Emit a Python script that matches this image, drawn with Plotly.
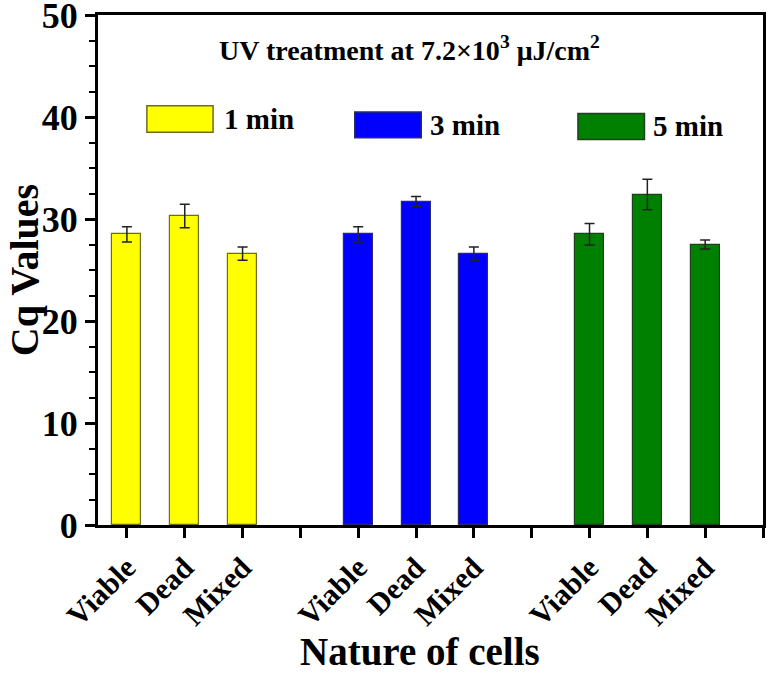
import plotly.graph_objects as go

# ---- data ----
cell_types = ["Viable", "Dead", "Mixed"]
groups = ["1 min", "3 min", "5 min"]
values_1min = [28.5, 30.3, 26.6]
errors_1min = [0.75, 1.15, 0.65]
values_3min = [28.5, 31.7, 26.6]
errors_3min = [0.75, 0.5, 0.65]
values_5min = [28.5, 32.4, 27.5]
errors_5min = [1.05, 1.5, 0.45]
group_positions = [[0, 1, 2], [4, 5, 6], [8, 9, 10]]
tick_positions = [0, 1, 2, 4, 5, 6, 8, 9, 10]
tick_labels = cell_types * 3
gap_tick_positions = [3, 7, 11]
colors = ["#FFFF00", "#0000FF", "#008000"]
outline_colors = ["#6b6b2a", "#2a2a6b", "#1f3f1f"]

FONT = "Liberation Serif"

fig = go.Figure()
all_vals = [values_1min, values_3min, values_5min]
all_errs = [errors_1min, errors_3min, errors_5min]
for g, name in enumerate(groups):
    fig.add_trace(go.Bar(
        x=group_positions[g], y=all_vals[g], name=name,
        width=0.5,
        marker=dict(color=colors[g], line=dict(color=outline_colors[g], width=1.2)),
        error_y=dict(type="data", array=all_errs[g], visible=True,
                     color="#222222", thickness=1.5, width=5),
        showlegend=False,
    ))

# legend swatches (staggered, as in the reference)
legend_boxes = [
    dict(x0=0.345, x1=1.49, y0=38.5, y1=41.1, tx=1.64, ty=39.8),
    dict(x0=3.94, x1=5.09, y0=37.97, y1=40.5, tx=5.21, ty=39.2),
    dict(x0=7.80, x1=8.95, y0=37.8, y1=40.35, tx=9.07, ty=39.07),
]
for g, b in enumerate(legend_boxes):
    fig.add_shape(type="rect", xref="x", yref="y",
                  x0=b["x0"], x1=b["x1"], y0=b["y0"], y1=b["y1"],
                  fillcolor=colors[g], line=dict(color=outline_colors[g], width=1.5))
    fig.add_annotation(x=b["tx"], y=b["ty"], xref="x", yref="y",
                       text=groups[g], showarrow=False, xanchor="left", yanchor="middle",
                       font=dict(family=FONT, size=29, color="black", weight="bold"))

fig.add_annotation(x=0.468, y=0.935, xref="paper", yref="paper",
                   text="UV treatment at 7.2×10<sup>3</sup> μJ/cm<sup>2</sup>",
                   showarrow=False, xanchor="center", yanchor="middle",
                   font=dict(family=FONT, size=28, color="black", weight="bold"))

# axis titles
fig.add_annotation(x=-0.111, y=0.5, xref="paper", yref="paper", text="Cq Values",
                   showarrow=False, textangle=-90, xanchor="center", yanchor="middle",
                   font=dict(family=FONT, size=40, color="black", weight="bold"))
fig.add_annotation(x=0.484, y=-0.249, xref="paper", yref="paper", text="Nature of cells",
                   showarrow=False, xanchor="center", yanchor="middle",
                   font=dict(family=FONT, size=39, color="black", weight="bold"))

fig.update_layout(
    width=768, height=681,
    margin=dict(l=98, r=5, t=15, b=156),
    paper_bgcolor="white", plot_bgcolor="white",
    bargap=0,
)
fig.update_xaxes(
    range=[-0.5, 11], tickmode="array", tickvals=tick_positions, ticktext=tick_labels,
    tickangle=-45, ticks="outside", ticklen=10, tickwidth=3, tickcolor="black",
    minor=dict(tickmode="array", tickvals=gap_tick_positions, ticks="outside",
               ticklen=10, tickwidth=3, tickcolor="black", showgrid=False),
    showline=True, linewidth=3, linecolor="black", mirror=True,
    showgrid=False, zeroline=False, automargin=False, ticklabeloverflow="allow",
    tickfont=dict(family=FONT, size=30, color="black", weight="bold"),
)
fig.update_yaxes(
    range=[0, 50], dtick=10, ticks="outside", ticklen=10, tickwidth=3, tickcolor="black",
    minor=dict(dtick=2.5, ticks="outside", ticklen=6, tickwidth=2, tickcolor="black"),
    showline=True, linewidth=3, linecolor="black", mirror=True,
    showgrid=False, zeroline=False, automargin=False, ticklabeloverflow="allow",
    tickfont=dict(family=FONT, size=36, color="black", weight="bold"),
)

fig.write_html("out.html", config={"displayModeBar": False},
               post_script="document.body.style.margin='0px';")
